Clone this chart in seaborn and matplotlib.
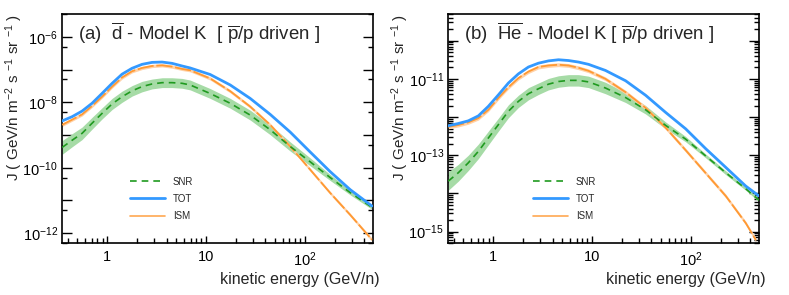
import numpy as np
import pandas as pd
import matplotlib
matplotlib.use("Agg")
import matplotlib.pyplot as plt
import matplotlib.ticker as mticker
from matplotlib.lines import Line2D
import seaborn as sns

# ================================
# DATA (log10 of flux)
# ================================
# panel (a): anti-deuteron
a_e = [0.351, 0.443, 0.558, 0.705, 0.889, 1.125, 1.419, 1.791, 2.259, 2.851, 3.606, 4.55,
       5.74, 6.92, 11.03, 17.6, 28.0, 44.7, 71.2, 113.5, 180.7, 288, 478]
a_tot_logj = [-8.57, -8.44, -8.27, -8.03, -7.73, -7.42, -7.14, -6.96, -6.84, -6.78, -6.77, -6.81,
              -6.89, -6.95, -7.15, -7.47, -7.88, -8.37, -8.91, -9.52, -10.12, -10.67, -11.17]
a_ism_logj = [-8.69, -8.53, -8.37, -8.11, -7.83, -7.52, -7.24, -7.05, -6.95, -6.89, -6.87, -6.91,
              -6.98, -7.02, -7.27, -7.66, -8.13, -8.69, -9.35, -10.06, -10.77, -11.44, -12.20]
a_snr_logj = [-9.38, -9.16, -8.95, -8.64, -8.34, -8.05, -7.83, -7.65, -7.52, -7.44, -7.40, -7.40,
              -7.42, -7.47, -7.73, -8.03, -8.39, -8.84, -9.35, -9.82, -10.30, -10.76, -11.21]
a_snr_band = [0.21, 0.20, 0.19, 0.18, 0.17, 0.17, 0.17, 0.16, 0.16, 0.15, 0.15, 0.15,
              0.15, 0.15, 0.15, 0.15, 0.15, 0.15, 0.14, 0.12, 0.09, 0.07, 0.06]
a_ism_band = 0.05

# panel (b): anti-helium
b_e = [0.352, 0.445, 0.562, 0.710, 0.896, 1.132, 1.429, 1.804, 2.279, 2.875, 3.63, 4.59,
       5.79, 7.31, 9.24, 13.7, 21.9, 34.9, 55.7, 88.8, 141.6, 226, 360, 491]
b_tot_logj = [-12.23, -12.17, -12.10, -11.97, -11.72, -11.42, -11.11, -10.87, -10.69, -10.59, -10.53, -10.50,
              -10.52, -10.56, -10.62, -10.78, -11.05, -11.43, -11.88, -12.31, -12.83, -13.32, -13.81, -14.07]
b_snr_logj = [-13.68, -13.46, -13.20, -12.90, -12.55, -12.20, -11.85, -11.59, -11.39, -11.26, -11.14, -11.07,
              -11.04, -11.04, -11.08, -11.24, -11.49, -11.81, -12.22, -12.58, -13.02, -13.46, -13.88, -14.18]
b_snr_band = [0.24, 0.22, 0.20, 0.19, 0.18, 0.17, 0.17, 0.16, 0.16, 0.15, 0.15, 0.15,
              0.15, 0.15, 0.15, 0.15, 0.13, 0.11, 0.09, 0.07, 0.05, 0.05, 0.04, 0.04]
b_ism_e = [0.352, 0.445, 0.562, 0.710, 0.896, 1.132, 1.429, 1.804, 2.279, 2.875, 3.63, 4.59,
           5.79, 7.31, 9.24, 13.7, 21.9, 34.9, 55.7, 88.8, 141.6, 226, 360, 455]
b_ism_logj = [-12.26, -12.21, -12.14, -12.03, -11.81, -11.50, -11.22, -10.98, -10.81, -10.69, -10.65, -10.63,
              -10.65, -10.71, -10.79, -11.00, -11.35, -11.76, -12.28, -12.87, -13.47, -14.07, -14.78, -15.22]
b_ism_band = 0.05

titles = [r"(a)  $\overline{\mathrm{d}}$ - Model K  [ $\overline{\mathrm{p}}$/p driven ]",
          r"(b)  $\overline{\mathrm{He}}$ - Model K [ $\overline{\mathrm{p}}$/p driven ]"]
legend_labels = ["SNR", "TOT", "ISM"]

# ================================
# STYLE
# ================================
sns.set_theme(style="white")
plt.rcParams["font.family"] = ["Liberation Sans", "DejaVu Sans"]
plt.rcParams["mathtext.fontset"] = "custom"
plt.rcParams["mathtext.rm"] = "Liberation Sans"
plt.rcParams["mathtext.it"] = "Liberation Sans:italic"
plt.rcParams["mathtext.bf"] = "Liberation Sans:bold"

c_blue = "#3399ff"
c_orange = "#ff9933"
c_peach = "#ffd2a8"
c_green = "#1f9a1f"
c_band = "#a6dba6"

fig = plt.figure(figsize=(7.89, 2.95), dpi=100)
ax_a = fig.add_axes([62 / 789, 52 / 295, 311 / 789, 229 / 295])
ax_b = fig.add_axes([448 / 789, 52 / 295, 311 / 789, 229 / 295])


def draw_panel(ax, tot_e, tot_lj, ism_e, ism_lj, ism_bw, snr_e, snr_lj, snr_bw):
    snr = pd.DataFrame({"E": snr_e, "J": 10 ** np.array(snr_lj)})
    ism = pd.DataFrame({"E": ism_e, "J": 10 ** np.array(ism_lj)})
    tot = pd.DataFrame({"E": tot_e, "J": 10 ** np.array(tot_lj)})
    ax.fill_between(snr_e, 10 ** (np.array(snr_lj) - np.array(snr_bw)),
                    10 ** (np.array(snr_lj) + np.array(snr_bw)), color=c_band, lw=0, zorder=1)
    ax.fill_between(ism_e, 10 ** (np.array(ism_lj) - ism_bw),
                    10 ** (np.array(ism_lj) + ism_bw), color=c_peach, lw=0, zorder=2)
    sns.lineplot(data=ism, x="E", y="J", ax=ax, color=c_orange, lw=1.3,
                 linestyle=(0, (9, 1.5)), zorder=3)
    sns.lineplot(data=snr, x="E", y="J", ax=ax, color=c_green, lw=1.2,
                 linestyle=(0, (4, 3)), zorder=4)
    sns.lineplot(data=tot, x="E", y="J", ax=ax, color=c_blue, lw=2.0, zorder=5)


draw_panel(ax_a, a_e, a_tot_logj, a_e, a_ism_logj, a_ism_band,
           a_e, a_snr_logj, a_snr_band)
draw_panel(ax_b, b_e, b_tot_logj, b_ism_e, b_ism_logj, b_ism_band,
           b_e, b_snr_logj, b_snr_band)

# ================================
# AXES
# ================================
ylims = [(5e-13, 5e-6), (5e-16, 5e-10)]
label_parity = [0, 1]   # left: even exponents labelled, right: odd ones
legend_x = [0.219, 0.273]


def ylab(v, p, par):
    k = int(round(np.log10(v)))
    return r"$10^{%d}$" % k if k % 2 == par else ""


for i, ax in enumerate([ax_a, ax_b]):
    ax.set_xscale("log")
    ax.set_yscale("log")
    ax.set_xlim(0.35, 490)
    ax.set_ylim(*ylims[i])
    ax.xaxis.set_major_locator(mticker.FixedLocator([1, 10, 100]))
    ax.xaxis.set_minor_locator(mticker.LogLocator(base=10, subs=np.arange(2, 10), numticks=20))
    ax.xaxis.set_major_formatter(mticker.FixedFormatter(["1", "10", r"$10^{2}$"]))
    ax.xaxis.set_minor_formatter(mticker.NullFormatter())
    lo = int(np.ceil(np.log10(ylims[i][0])))
    hi = int(np.floor(np.log10(ylims[i][1])))
    ax.yaxis.set_major_locator(mticker.FixedLocator([10.0 ** k for k in range(lo, hi + 1)]))
    ax.yaxis.set_major_formatter(mticker.FuncFormatter(lambda v, p, par=label_parity[i]: ylab(v, p, par)))
    if i == 0:
        ax.yaxis.set_minor_locator(mticker.LogLocator(base=10, subs=(5,), numticks=20))
    else:
        ax.yaxis.set_minor_locator(mticker.LogLocator(base=10, subs=np.arange(2, 10), numticks=20))
    ax.yaxis.set_minor_formatter(mticker.NullFormatter())
    ax.tick_params(which="both", direction="in", bottom=True, left=True, right=True, top=False,
                   colors="black", labelsize=10.5, width=1)
    ax.tick_params(which="major", length=7, pad=3)
    ax.tick_params(which="minor", length=3.5)
    ax.tick_params(axis="x", which="major", length=5, pad=5)
    for s in ax.spines.values():
        s.set_color("black")
        s.set_linewidth(1.2)
    ax.set_xlabel("kinetic energy (GeV/n)", fontsize=11.5, loc="right")
    ax.xaxis.set_label_coords(1.022, -0.125)
    ax.set_ylabel(r"J ( GeV/n m$^{-2}$ s $^{-1}$ sr $^{-1}$ )", fontsize=11, loc="top")
    ax.yaxis.set_label_coords(-0.118, 1.0)
    ax.text(0.05, 0.915, titles[i], transform=ax.transAxes, fontsize=13.4, va="center", ha="left")

    handles = [Line2D([], [], color=c_green, lw=1.2, linestyle=(0, (4, 3))),
               Line2D([], [], color=c_blue, lw=2.0),
               Line2D([], [], color=c_orange, lw=1.2, alpha=0.85)]
    ax.legend(handles, legend_labels, loc="upper left",
              bbox_to_anchor=(legend_x[i], 0.29), frameon=False, fontsize=7,
              handlelength=3.6, handletextpad=0.8, labelspacing=0.75, borderpad=0, borderaxespad=0)

fig.savefig("out.png", dpi=100)
